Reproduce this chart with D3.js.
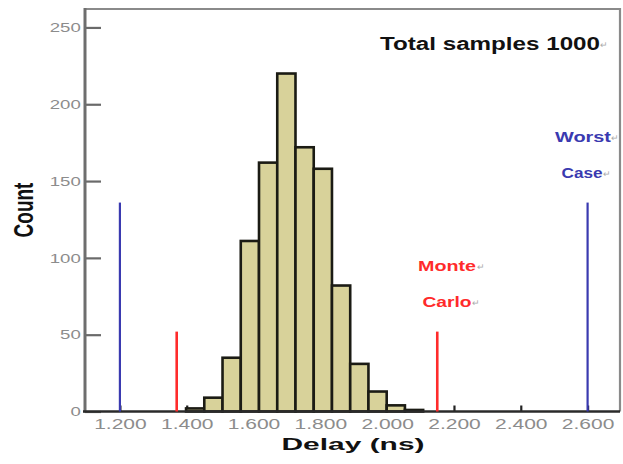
<!DOCTYPE html>
<html>
<head>
<meta charset="utf-8">
<script src="https://cdn.jsdelivr.net/npm/d3@7"></script>
<style>
  html, body { margin: 0; padding: 0; background: #fff; }
  svg { display: block; font-family: "Liberation Sans", Arial, sans-serif; }
</style>
</head>
<body>
<svg id="chart" width="623" height="464"></svg>
<script>
// Histogram of simulated delay over 1000 Monte Carlo samples
const binStart = 1.398;      // ns, lower edge of first bin
const binWidth = 0.0546;     // ns
const counts = [2, 9, 35, 111, 162, 220, 172, 158, 82, 31, 13, 4, 1];

// Reference markers: delay (ns) and line height (count units)
const markerNames = ["Worst Case low", "Monte Carlo low", "Monte Carlo high", "Worst Case high"];
const markerDelays = [1.2, 1.37, 2.15, 2.6];
const markerHeights = [136, 52, 52, 136];
const markerKinds = ["worst", "monte", "monte", "worst"];

const xTicks = [1.2, 1.4, 1.6, 1.8, 2.0, 2.2, 2.4, 2.6];
const yTicks = [0, 50, 100, 150, 200, 250];

const svg = d3.select("#chart");
const plotL = 85, plotR = 620, plotT = 9, plotB = 411.5;

const x = d3.scaleLinear().domain([1.1, 2.7]).range([86.5, 621]);
const y = d3.scaleLinear().domain([0, 262]).range([plotB, plotT]);

const kindColor = { worst: "#3a3ab0", monte: "#ff2b2b" };

// frame (top and right)
svg.append("path")
  .attr("d", `M${plotL},${plotT} H${plotR} V${plotB}`)
  .attr("fill", "none").attr("stroke", "#8a8a8a").attr("stroke-width", 2.2);

// y axis: ticks point inward, grey labels stretched horizontally
const yAxis = svg.append("g")
  .attr("transform", `translate(${plotL},0)`)
  .call(d3.axisLeft(y).tickValues(yTicks).tickSizeInner(-16).tickSizeOuter(0).tickPadding(3));
yAxis.select(".domain").remove();
yAxis.selectAll(".tick line").attr("stroke", "#6a6a6a").attr("stroke-width", 2.2);
yAxis.selectAll(".tick text")
  .attr("fill", "#8c8c8c").attr("font-size", 13)
  .attr("font-family", "Liberation Sans, Arial, sans-serif")
  .attr("transform", "scale(1.43,1)");
svg.append("line")
  .attr("x1", plotL).attr("x2", plotL).attr("y1", plotT - 1).attr("y2", plotB + 1)
  .attr("stroke", "#6e6e6e").attr("stroke-width", 3);

// x axis
const xAxis = svg.append("g")
  .attr("transform", `translate(0,${plotB})`)
  .call(d3.axisBottom(x).tickValues(xTicks).tickFormat(d3.format(".3f"))
    .tickSizeInner(-6).tickSizeOuter(0).tickPadding(8));
xAxis.select(".domain").remove();
xAxis.selectAll(".tick line").attr("stroke", "#222").attr("stroke-width", 2.2);
xAxis.selectAll(".tick text")
  .attr("fill", "#8c8c8c").attr("font-size", 14)
  .attr("font-family", "Liberation Sans, Arial, sans-serif")
  .attr("transform", "scale(1.5,1)");

// histogram bars
const bins = counts.map((c, i) => ({ x0: binStart + i * binWidth, x1: binStart + (i + 1) * binWidth, count: c }));
svg.append("g").selectAll("rect")
  .data(bins)
  .join("rect")
  .attr("x", d => x(d.x0))
  .attr("width", d => x(d.x1) - x(d.x0))
  .attr("y", d => y(d.count))
  .attr("height", d => y(0) - y(d.count))
  .attr("fill", "#d8d29a")
  .attr("stroke", "#1b1b14")
  .attr("stroke-width", 2.6);

// bottom axis line
svg.append("line")
  .attr("x1", plotL - 2).attr("x2", plotR).attr("y1", plotB).attr("y2", plotB)
  .attr("stroke", "#2a2a2a").attr("stroke-width", 2.6);

// marker lines
svg.append("g").selectAll("line")
  .data(markerDelays.map((d, i) => ({ name: markerNames[i], delay: d, h: markerHeights[i], kind: markerKinds[i] })))
  .join("line")
  .attr("x1", d => x(d.delay)).attr("x2", d => x(d.delay))
  .attr("y1", y(0)).attr("y2", d => y(d.h))
  .attr("stroke", d => kindColor[d.kind])
  .attr("stroke-width", d => d.kind === "monte" ? 2.6 : 2.2);

// text helper: bold label stretched to a given width
function label(txt, x0, baseline, width, size, color) {
  svg.append("text")
    .attr("x", x0).attr("y", baseline)
    .attr("font-size", size).attr("font-weight", "bold")
    .attr("fill", color)
    .attr("textLength", width).attr("lengthAdjust", "spacingAndGlyphs")
    .text(txt);
}
// small paragraph mark trailing each annotation line
function mark(x0, baseline) {
  svg.append("text")
    .attr("x", x0).attr("y", baseline)
    .attr("font-size", 9).attr("fill", "#aaa")
    .text("\u21B5");
}

label("Total samples 1000", 380, 50, 220, 18, "#111");
mark(600, 48);

label("Worst", 555, 142, 56, 15, kindColor.worst);
mark(611, 141);
label("Case", 561.5, 178, 41, 15, kindColor.worst);
mark(603, 177);

label("Monte", 418, 271, 58, 15, kindColor.monte);
mark(477, 270);
label("Carlo", 422.5, 307, 49, 15, kindColor.monte);
mark(472, 306);

// axis titles
svg.append("text")
  .attr("x", 281.5).attr("y", 450)
  .attr("font-size", 17).attr("font-weight", "bold").attr("fill", "#111")
  .attr("textLength", 143).attr("lengthAdjust", "spacingAndGlyphs")
  .text("Delay (ns)");

svg.append("text")
  .attr("transform", "translate(23,210) rotate(-90) scale(1,1.45)")
  .attr("text-anchor", "middle").attr("dy", "0.36em")
  .attr("font-size", 19).attr("font-weight", "bold").attr("fill", "#111")
  .text("Count");
</script>
</body>
</html>
